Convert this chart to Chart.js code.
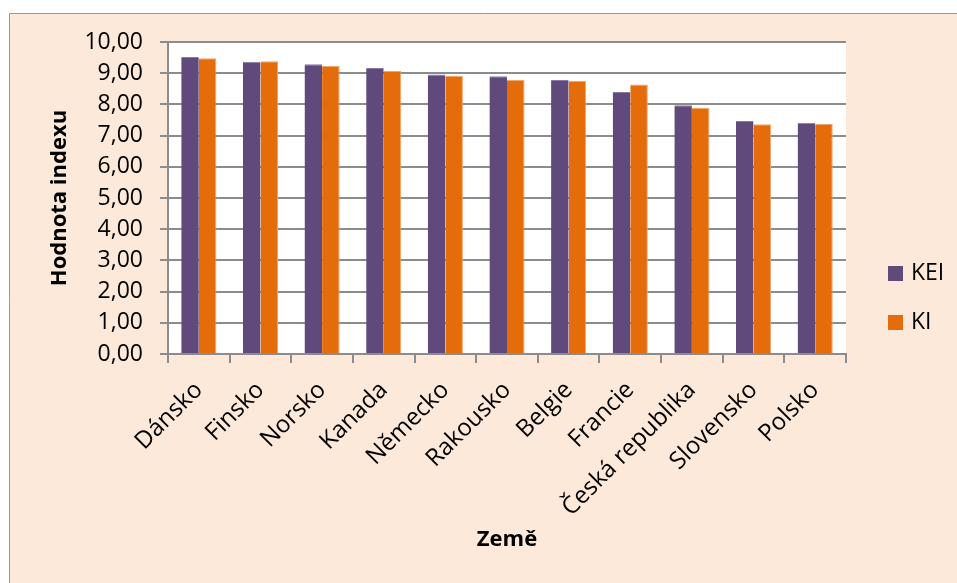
<!DOCTYPE html>
<html lang="cs">
<head>
<meta charset="utf-8">
<title>KEI a KI podle zemí</title>
<script src="https://cdn.jsdelivr.net/npm/chart.js@4.4.1/dist/chart.umd.min.js"></script>
<style>
  html, body { margin: 0; padding: 0; background: #fff; }
  canvas { display: block; }
</style>
</head>
<body>
<canvas id="indexChart" width="957" height="583"></canvas>
<script>
// hodnoty
const countries = ["Dánsko", "Finsko", "Norsko", "Kanada", "Německo", "Rakousko", "Belgie", "Francie", "Česká republika", "Slovensko", "Polsko"];
const keiValues = [9.52, 9.37, 9.29, 9.17, 8.96, 8.90, 8.78, 8.40, 7.97, 7.47, 7.41];
const kiValues = [9.48, 9.38, 9.24, 9.07, 8.91, 8.78, 8.76, 8.64, 7.89, 7.36, 7.37];
const seriesNames = ["KEI", "KI"];
const seriesColors = ["#604A7B", "#E46C0A"];

const FONT = "'Open Sans', 'DejaVu Sans', sans-serif";
const GRID = "#8c8c8c";
const PEACH = "#FDE9D9";

// pozadí: bílý okraj, broskvová plocha s rámečkem, bílá plocha grafu
const backgroundPlugin = {
    id: "background",
    beforeDraw(chart) {
        const { ctx, width, height, chartArea } = chart;
        ctx.save();
        ctx.fillStyle = "#fff";
        ctx.fillRect(0, 0, width, height);
        ctx.fillStyle = PEACH;
        ctx.fillRect(9, 13, width - 9, height - 13);
        ctx.strokeStyle = "#999";
        ctx.lineWidth = 1;
        ctx.beginPath();
        ctx.moveTo(9.5, height);
        ctx.lineTo(9.5, 13.5);
        ctx.lineTo(width, 13.5);
        ctx.stroke();
        ctx.fillStyle = "#fff";
        ctx.fillRect(chartArea.left, chartArea.top, chartArea.right - chartArea.left, chartArea.bottom - chartArea.top);
        ctx.restore();
    }
};

// legenda vpravo, svisle uprostřed broskvové plochy
const sideLegendPlugin = {
    id: "sideLegend",
    afterDraw(chart) {
        const { ctx, height, chartArea } = chart;
        const x = chartArea.right + 42;
        const gap = 49;
        const sets = chart.data.datasets;
        const top = (13 + height) / 2 - gap * (sets.length - 1) / 2;
        ctx.save();
        ctx.font = "23px " + FONT;
        ctx.textBaseline = "middle";
        ctx.textAlign = "left";
        sets.forEach((ds, i) => {
            const cy = top + i * gap;
            ctx.fillStyle = ds.backgroundColor;
            ctx.fillRect(x, cy - 7.5, 15, 15);
            ctx.fillStyle = "#000";
            ctx.fillText(ds.label, x + 23, cy);
        });
        ctx.restore();
    }
};

const ctx = document.getElementById("indexChart").getContext("2d");

new Chart(ctx, {
    type: "bar",
    data: {
        labels: countries,
        datasets: [
            { label: seriesNames[0], data: keiValues, backgroundColor: seriesColors[0], borderColor: "#8a7aa1", borderWidth: { top: 1 } },
            { label: seriesNames[1], data: kiValues, backgroundColor: seriesColors[1], borderColor: "#f2a569", borderWidth: { top: 1, right: 1 } }
        ]
    },
    options: {
        responsive: false,
        animation: false,
        devicePixelRatio: 1,
        layout: { padding: { left: 47, top: 42, right: 111, bottom: 30 } },
        datasets: { bar: { barPercentage: 1.0, categoryPercentage: 0.57 } },
        plugins: {
            legend: { display: false },
            tooltip: { enabled: false }
        },
        scales: {
            x: {
                grid: { drawOnChartArea: false, drawTicks: true, tickLength: 9, color: GRID, lineWidth: 2 },
                border: { color: GRID, width: 2 },
                ticks: {
                    color: "#000",
                    font: { family: FONT, size: 24 },
                    minRotation: 45,
                    maxRotation: 45,
                    autoSkip: false,
                    padding: 13
                },
                title: {
                    display: true,
                    text: "Země",
                    color: "#000",
                    font: { family: FONT, size: 22, weight: "bold" },
                    padding: 0
                },
                afterFit(scale) { scale.height = 199; }
            },
            y: {
                min: 0,
                max: 10,
                grid: { color: GRID, lineWidth: 2, tickLength: 8 },
                border: { color: GRID, width: 2 },
                ticks: {
                    stepSize: 1,
                    color: "#000",
                    font: { family: FONT, size: 23 },
                    padding: 17,
                    callback: v => v.toFixed(2).replace(".", ",")
                },
                title: {
                    display: true,
                    text: "Hodnota indexu",
                    color: "#000",
                    font: { family: FONT, size: 22, weight: "bold" },
                    padding: 0
                },
                afterFit(scale) { scale.width = 121; }
            }
        }
    },
    plugins: [backgroundPlugin, sideLegendPlugin]
});
</script>
</body>
</html>
